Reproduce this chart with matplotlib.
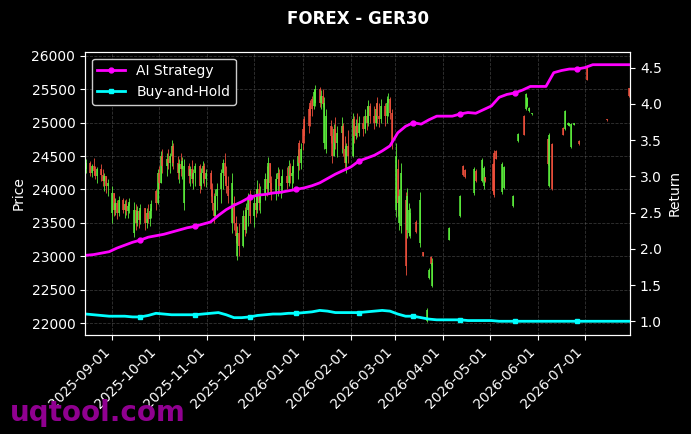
import pandas as pd
import matplotlib
matplotlib.use("Agg")
import matplotlib.pyplot as plt
import matplotlib.dates as mdates

plt.style.use("dark_background")

# --- candles: dense part, one per business day ---
dense_dates = pd.bdate_range("2025-08-15", "2026-03-04")
dense_open = [24300, 24400, 24250, 24350, 24280, 24200, 24300, 24220, 24120, 24200, 24050,
              23650, 23950, 23700, 23800, 23650, 23850, 23700, 23780, 23680, 23750,
              23350, 23700, 23500, 23680, 23550, 23720, 23500, 23650, 23560, 23680, 23980, 23800,
              24250, 24100, 24500, 24350, 24450, 24400, 24500, 24650, 24400, 24250, 24380, 24300,
              23800, 24350, 24200, 24300, 24150, 24250, 24350, 24050, 24250, 24350, 24150,
              24250, 24000, 23800, 23600, 23900, 24000, 24250, 24400, 24200, 24050,
              23500, 23800, 23500, 23000, 23350, 23150, 23600, 23400, 23700, 23850,
              23600, 23800, 23700, 24000, 23800, 23950, 24150, 24000, 24400, 24100,
              23950, 24150, 24250, 24050, 24100, 24200, 24100, 24350, 24200, 24250, 24350, 24700, 24400,
              24900, 25050, 25200, 25300, 25350, 25250, 25300, 25500, 25300, 25400, 24700, 24600,
              24950, 24800, 24500, 24900, 24700, 24850, 24950, 24600, 24400, 24650,
              24500, 25050, 24800, 24950, 24850, 25000, 24900, 25100, 25000, 25250,
              25100, 25000, 25300, 25100, 25050, 25250, 25100, 25300, 25350, 25150,
              23700, 24300, 23500]
dense_high = [24450, 24420, 24380, 24470, 24350, 24330, 24380, 24300, 24250, 24200, 24150,
              24050, 23950, 23880, 23850, 23900, 23880, 23840, 23860, 23800, 23870,
              23820, 23780, 23760, 23700, 23790, 23720, 23720, 23780, 23720, 23850, 24000, 24300,
              24350, 24580, 24600, 24550, 24600, 24550, 24740, 24700, 24500, 24450, 24550, 24480,
              24450, 24400, 24350, 24440, 24300, 24400, 24380, 24320, 24420, 24390, 24300,
              24290, 24100, 23950, 24000, 24100, 24300, 24450, 24540, 24350, 24200,
              24240, 23900, 23600, 23450, 23500, 23700, 23740, 23800, 23950, 23990,
              23900, 24000, 24140, 24100, 24050, 24250, 24350, 24490, 24400, 24200,
              24250, 24340, 24300, 24200, 24300, 24340, 24440, 24400, 24350, 24450, 24600, 24740, 24700,
              24950, 25100, 25250, 25340, 25400, 25500, 25560, 25530, 25480, 25500, 25380, 25200,
              25040, 24950, 24980, 25080, 24950, 25080, 25000, 24800, 24700, 24890,
              25140, 25100, 25050, 25140, 25100, 25100, 25200, 25250, 25340, 25300,
              25250, 25300, 25380, 25300, 25350, 25300, 25400, 25440, 25380, 25200,
              24700, 24450, 24000]
dense_low = [24250, 24200, 24180, 24220, 24150, 24100, 24120, 24050, 23980, 23950, 23900,
             23500, 23600, 23620, 23560, 23600, 23650, 23580, 23620, 23570, 23650,
             23290, 23400, 23450, 23420, 23480, 23400, 23430, 23500, 23450, 23580, 23700, 23780,
             24000, 24100, 24250, 24200, 24300, 24250, 24350, 24300, 24150, 24100, 24200, 24150,
             23690, 24100, 24050, 24100, 24000, 24050, 23950, 24000, 24100, 24050, 24030,
             23900, 23700, 23500, 23600, 23700, 23800, 24000, 24100, 23950, 23800,
             23350, 23400, 23200, 22940, 23000, 23140, 23300, 23350, 23450, 23500,
             23440, 23590, 23650, 23700, 23650, 23840, 23900, 23950, 24000, 23850,
             23840, 23900, 23950, 23880, 23950, 24000, 24050, 24100, 23990, 24100, 24150, 24290, 24300,
             24590, 24700, 24850, 24950, 25100, 25200, 25250, 25230, 25200, 25230, 24600, 24540,
             24700, 24390, 24500, 24600, 24490, 24550, 24500, 24300, 24240, 24400,
             24490, 24700, 24750, 24780, 24800, 24800, 24850, 24890, 24950, 25000,
             24900, 24950, 25000, 24940, 25000, 24950, 25000, 25100, 25050, 24600,
             23590, 23600, 23400]
dense_close = [24400, 24250, 24350, 24280, 24200, 24300, 24220, 24120, 24200, 24050, 24100,
               23950, 23700, 23800, 23650, 23850, 23700, 23780, 23680, 23750, 23820,
               23700, 23500, 23680, 23550, 23720, 23500, 23650, 23560, 23680, 23780, 23800, 24250,
               24100, 24500, 24350, 24450, 24400, 24500, 24650, 24400, 24250, 24380, 24300, 24420,
               24350, 24200, 24300, 24150, 24250, 24350, 24050, 24250, 24350, 24150, 24250,
               24000, 23800, 23600, 23900, 24000, 24250, 24400, 24200, 24050, 23900,
               24100, 23500, 23300, 23350, 23150, 23600, 23400, 23700, 23850, 23600,
               23800, 23700, 24000, 23800, 23950, 24150, 24000, 24400, 24100, 23950,
               24150, 24250, 24050, 24100, 24200, 24100, 24350, 24200, 24250, 24350, 24500, 24400, 24600,
               24700, 24800, 24950, 25100, 25200, 25450, 25500, 25300, 25400, 25280, 25300, 25100,
               24800, 24500, 24900, 24700, 24850, 24950, 24600, 24400, 24650, 24500,
               25050, 24800, 24950, 24850, 25000, 24900, 25100, 25000, 25250, 25100,
               25000, 25200, 25100, 25050, 25250, 25100, 25300, 25350, 25150, 24700,
               24500, 23800, 23900]

# --- candles: sparse part (gaps in the data) ---
sparse_dates = ["2026-03-05", "2026-03-08", "2026-03-09", "2026-03-10", "2026-03-11", "2026-03-15",
                "2026-03-17", "2026-03-19", "2026-03-22", "2026-03-23", "2026-03-24", "2026-03-25",
                "2026-04-05", "2026-04-12", "2026-04-14", "2026-04-15", "2026-04-21", "2026-04-22",
                "2026-04-26", "2026-04-27", "2026-04-28", "2026-05-03", "2026-05-04", "2026-05-05",
                "2026-05-09", "2026-05-10", "2026-05-16", "2026-05-19", "2026-05-23", "2026-05-24",
                "2026-05-25", "2026-05-26", "2026-05-28", "2026-06-07", "2026-06-08", "2026-06-10",
                "2026-06-17", "2026-06-18", "2026-06-20", "2026-06-21", "2026-06-22", "2026-06-24",
                "2026-06-27", "2026-07-02", "2026-07-15", "2026-07-29"]
sparse_open = [23450, 23850, 23400, 23350, 23300, 23520, 23200, 23060, 22040, 22680, 22990, 22560,
               23250, 23600, 24350, 24290, 23950, 24280, 24130, 24050, 24180, 24380, 24550, 24580,
               23960, 24020, 23750, 24720, 25100, 25200, 25250, 25170, 25125, 24760, 24050, 24680,
               24920, 24900, 24965, 24955, 24630, 24965, 24730, 25850, 25055, 25510]
sparse_high = [24390, 23960, 24020, 23800, 23720, 23540, 23960, 23060, 22225, 22820, 23000, 22970,
               23440, 23920, 24360, 24300, 24340, 24300, 24470, 24350, 24190, 24400, 24590, 24590,
               24410, 24350, 23920, 24840, 25110, 25440, 25380, 25230, 25150, 24770, 24840, 24690,
               24930, 25190, 25010, 25000, 24990, 25000, 24740, 25860, 25060, 25520]
sparse_low = [23350, 22720, 23270, 23300, 23270, 23350, 23140, 23000, 22020, 22670, 22870, 22540,
              23240, 23590, 24200, 24170, 23920, 24110, 24110, 24000, 24110, 23950, 23890, 24450,
              23940, 24000, 23740, 24710, 24810, 25190, 25240, 25160, 25120, 24370, 24040, 23990,
              24810, 24890, 24960, 24950, 24620, 24960, 24670, 25630, 25030, 25380]
sparse_close = [24250, 22850, 23900, 23700, 23650, 23370, 23850, 23000, 22200, 22800, 22880, 22900,
                23430, 23900, 24210, 24180, 24300, 24130, 24440, 24320, 24120, 23980, 23920, 24460,
                24380, 24330, 23910, 24830, 24820, 25420, 25370, 25220, 25145, 24380, 24820, 24000,
                24820, 25170, 25000, 24995, 24980, 24995, 24680, 25640, 25035, 25390]

# --- return curves, read every 5 days ---
line_dates = pd.date_range("2025-08-15", periods=71, freq="5D")
ai_strategy = [1.91, 1.92, 1.94, 1.96, 2.01, 2.05, 2.09, 2.12, 2.16, 2.18,
               2.20, 2.23, 2.26, 2.29, 2.31, 2.34, 2.37, 2.46, 2.54, 2.60,
               2.65, 2.71, 2.74, 2.75, 2.77, 2.78, 2.80, 2.82, 2.84, 2.87,
               2.91, 2.97, 3.03, 3.08, 3.13, 3.21, 3.25, 3.29, 3.35, 3.42,
               3.60, 3.69, 3.74, 3.72, 3.78, 3.83, 3.83, 3.83, 3.86, 3.88,
               3.87, 3.92, 3.97, 4.09, 4.13, 4.15, 4.19, 4.24, 4.24, 4.24,
               4.43, 4.46, 4.48, 4.48, 4.50, 4.54, 4.54, 4.54, 4.54, 4.54, 4.54]
buy_and_hold = [1.10, 1.09, 1.08, 1.07, 1.07, 1.07, 1.06, 1.06, 1.08, 1.11,
                1.10, 1.09, 1.09, 1.09, 1.09, 1.10, 1.11, 1.12, 1.09, 1.05,
                1.05, 1.06, 1.08, 1.09, 1.10, 1.10, 1.11, 1.11, 1.12, 1.13,
                1.15, 1.14, 1.12, 1.12, 1.12, 1.12, 1.13, 1.14, 1.15, 1.14,
                1.10, 1.07, 1.07, 1.05, 1.03, 1.02, 1.02, 1.02, 1.02, 1.01,
                1.01, 1.01, 1.01, 1.00, 1.00, 1.00, 1.00, 1.00, 1.00, 1.00,
                1.00, 1.00, 1.00, 1.00, 1.00, 1.00, 1.00, 1.00, 1.00, 1.00, 1.00]
marker_idx = [7, 14, 21, 27, 35, 42, 48, 55, 63]

dates = list(dense_dates) + list(pd.to_datetime(sparse_dates))
df = pd.DataFrame({
    "date": dates,
    "open": dense_open + sparse_open,
    "high": dense_high + sparse_high,
    "low": dense_low + sparse_low,
    "close": dense_close + sparse_close,
})

up_color = "#5cf03c"
down_color = "#f0503c"
colors = [up_color if c >= o else down_color for o, c in zip(df["open"], df["close"])]

fig, ax = plt.subplots(figsize=(6.91, 4.34), dpi=100)
fig.patch.set_facecolor("black")
ax.set_facecolor("black")

ax.vlines(df["date"], df["low"], df["high"], colors=colors, linewidth=0.7, alpha=0.85)
ax.vlines(df["date"], df["open"], df["close"], colors=colors, linewidth=1.3, alpha=0.85)

ax.set_ylim(21825, 26060)
ax.set_xlim(pd.Timestamp("2025-08-14 12:00"), pd.Timestamp("2026-07-30"))
ax.set_ylabel("Price")
ax.grid(True, linestyle="--", color="grey", alpha=0.4, linewidth=0.6)
ax.xaxis.set_major_locator(mdates.MonthLocator())
ax.xaxis.set_major_formatter(mdates.DateFormatter("%Y-%m-%d"))
plt.setp(ax.get_xticklabels(), rotation=45, ha="right")

ax2 = ax.twinx()
ax2.plot(line_dates, ai_strategy, color="#ff00ff", linewidth=2, marker="o",
         markersize=3.5, markevery=marker_idx, label="AI Strategy")
ax2.plot(line_dates, buy_and_hold, color="#00ffff", linewidth=2, marker="s",
         markersize=3.5, markevery=marker_idx, label="Buy-and-Hold")
ax2.set_ylim(0.81, 4.72)
ax2.set_ylabel("Return")
ax2.set_xlim(ax.get_xlim())
ax2.legend(loc="upper left", facecolor="black", edgecolor="0.8", framealpha=1)

for a in (ax, ax2):
    for s in a.spines.values():
        s.set_color("white")

ax.set_title("FOREX - GER30", fontsize=12, fontweight="bold", color="white", pad=20)
fig.subplots_adjust(left=0.123, right=0.912, bottom=0.228, top=0.881)

fig.text(0.014, 0.015, "uqtool.com", fontsize=20, fontweight="bold",
         color="#900090", ha="left", va="bottom")

plt.savefig("out.png", dpi=100, facecolor="black")
